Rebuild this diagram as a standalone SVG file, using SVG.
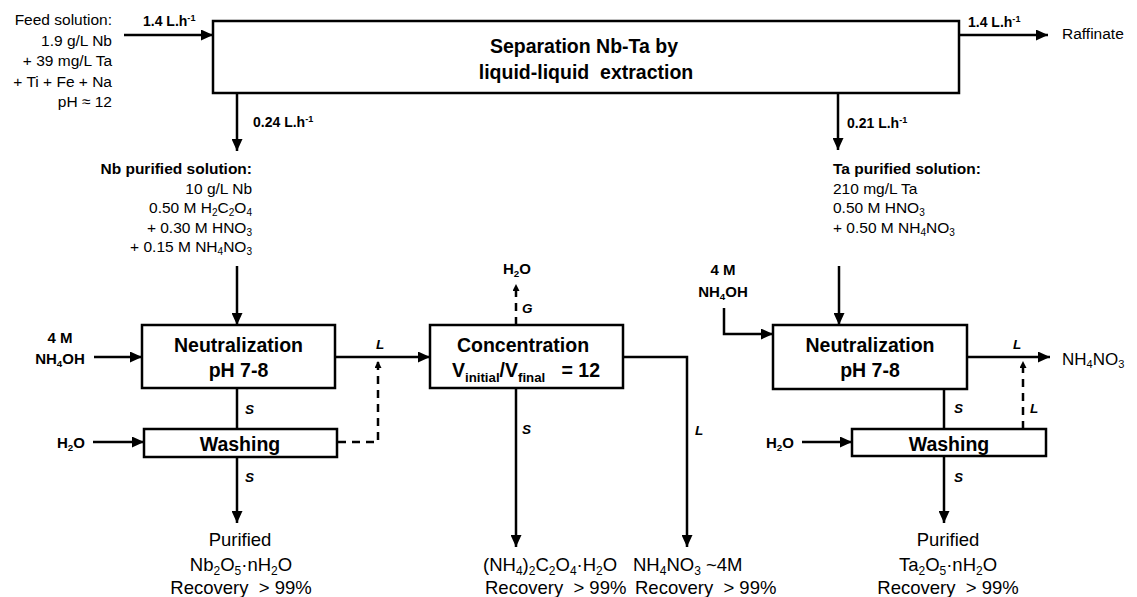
<svg xmlns="http://www.w3.org/2000/svg" width="1137" height="597" viewBox="0 0 1137 597">
<style>
text{font-family:"Liberation Sans",Arial,sans-serif;fill:#000}
.box{fill:#fff;stroke:#000;stroke-width:2.5}
.bt{font-size:19.5px;font-weight:bold;text-anchor:middle}
.lb{font-size:15.5px}
.bl{font-weight:bold}
.fl{font-size:14px;font-weight:bold}
.ph{font-size:13.5px;font-weight:bold;font-style:italic}
.ch{font-size:15px;font-weight:bold;text-anchor:middle}
.out{font-size:18.5px}
.mid{text-anchor:middle}
.end{text-anchor:end}
.sb{font-size:65%;baseline-shift:-3px}
.sbl{font-size:65%;baseline-shift:-3.5px}
.sbv{font-size:68%;baseline-shift:-5px}
.sp{font-size:65%;baseline-shift:super}
.c{fill:none;stroke:#000;stroke-width:2.5}
.d{fill:none;stroke:#000;stroke-width:2.5;stroke-dasharray:8 6}
</style>
<defs>
<marker id="ah" markerUnits="userSpaceOnUse" markerWidth="12" markerHeight="11" refX="12" refY="5.5" orient="auto">
<path d="M0,0 L12,5.5 L0,11 z" fill="#000"/>
</marker>
<marker id="as" markerUnits="userSpaceOnUse" markerWidth="7" markerHeight="7" refX="7" refY="3.5" orient="auto">
<path d="M0,0 L7,3.5 L0,7 z" fill="#000"/>
</marker>
</defs>

<g id="connectors">
<path class="c" d="M124,35 H213" marker-end="url(#ah)"/>
<path class="c" d="M959,35 H1048" marker-end="url(#ah)"/>
<path class="c" d="M237,93 V151" marker-end="url(#ah)"/>
<path class="c" d="M838,93 V150" marker-end="url(#ah)"/>
<path class="c" d="M237,266 V325" marker-end="url(#ah)"/>
<path class="c" d="M839,266 V325" marker-end="url(#ah)"/>
<path class="c" d="M94,357 H142" marker-end="url(#ah)"/>
<path class="c" d="M93,442 H144" marker-end="url(#ah)"/>
<path class="c" d="M237,388 V429"/>
<path class="c" d="M237,457 V523" marker-end="url(#ah)"/>
<path class="d" d="M338,442 H378 V361" marker-end="url(#as)"/>
<path class="c" d="M335,357 H430" marker-end="url(#ah)"/>
<path class="d" d="M516,325 V284" marker-end="url(#as)"/>
<path class="c" d="M516,388 V547" marker-end="url(#ah)"/>
<path class="c" d="M623,357 H687 V547" marker-end="url(#ah)"/>
<path class="c" d="M724,308 V334 H773" marker-end="url(#ah)"/>
<path class="c" d="M967,357 H1050" marker-end="url(#ah)"/>
<path class="c" d="M944,389 V429"/>
<path class="d" d="M1023,429 V361" marker-end="url(#as)"/>
<path class="c" d="M802,442 H852" marker-end="url(#ah)"/>
<path class="c" d="M944,456 V523" marker-end="url(#ah)"/>
<text class="fl" x="143" y="26">1.4 L.h<tspan class="sp">-1</tspan></text>
<text class="fl" x="968" y="26.5">1.4 L.h<tspan class="sp">-1</tspan></text>
<text class="fl" x="253" y="127">0.24 L.h<tspan class="sp">-1</tspan></text>
<text class="fl" x="847" y="128">0.21 L.h<tspan class="sp">-1</tspan></text>
<text class="ph" x="245" y="414">S</text>
<text class="ph" x="245" y="482">S</text>
<text class="ph" x="376" y="349">L</text>
<text class="ph" x="522" y="313">G</text>
<text class="ph" x="522" y="434">S</text>
<text class="ph" x="695" y="435">L</text>
<text class="ph" x="1013" y="349">L</text>
<text class="ph" x="1030" y="413">L</text>
<text class="ph" x="954" y="413">S</text>
<text class="ph" x="954" y="482">S</text>
</g>

<g id="feed">
<text class="lb end" x="112" y="25">Feed solution:</text>
<text class="lb end" x="112" y="45.5">1.9 g/L Nb</text>
<text class="lb end" x="112" y="66">+ 39 mg/L Ta</text>
<text class="lb end" x="112" y="86.5">+ Ti + Fe + Na</text>
<text class="lb end" x="112" y="107">pH ≈ 12</text>
</g>

<g id="separation">
<rect class="box" x="213" y="21" width="746" height="72"/>
<text class="bt" x="584" y="53">Separation Nb-Ta by</text>
<text class="bt" x="586" y="79">liquid-liquid&#160; extraction</text>
</g>

<g id="raffinate">
<text class="lb" x="1062" y="39">Raffinate</text>
</g>

<g id="nb-solution">
<text class="lb end bl" x="252" y="174">Nb purified solution:</text>
<text class="lb end" x="252" y="193.5">10 g/L Nb</text>
<text class="lb end" x="252" y="213">0.50 M H<tspan class="sb">2</tspan>C<tspan class="sb">2</tspan>O<tspan class="sb">4</tspan></text>
<text class="lb end" x="252" y="232.5">+ 0.30 M HNO<tspan class="sb">3</tspan></text>
<text class="lb end" x="252" y="252">+ 0.15 M NH<tspan class="sb">4</tspan>NO<tspan class="sb">3</tspan></text>
</g>

<g id="ta-solution">
<text class="lb bl" x="833" y="174">Ta purified solution:</text>
<text class="lb" x="833" y="193.5">210 mg/L Ta</text>
<text class="lb" x="833" y="213">0.50 M HNO<tspan class="sb">3</tspan></text>
<text class="lb" x="833" y="232.5">+ 0.50 M NH<tspan class="sb">4</tspan>NO<tspan class="sb">3</tspan></text>
</g>

<g id="nh4oh-left">
<text class="ch" x="60" y="343">4 M</text>
<text class="ch" x="60" y="364">NH<tspan class="sb">4</tspan>OH</text>
</g>

<g id="h2o-left">
<text class="ch" x="71" y="448">H<tspan class="sb">2</tspan>O</text>
</g>

<g id="neutralization-nb">
<rect class="box" x="142" y="325" width="193" height="63"/>
<text class="bt" x="238.5" y="352">Neutralization</text>
<text class="bt" x="238.5" y="377">pH 7-8</text>
</g>

<g id="washing-nb">
<rect class="box" x="144" y="429" width="193" height="28"/>
<text class="bt" x="240" y="451">Washing</text>
</g>

<g id="h2o-gas">
<text class="ch" x="517" y="274">H<tspan class="sb">2</tspan>O</text>
</g>

<g id="concentration">
<rect class="box" x="430" y="325" width="193" height="63"/>
<text class="bt" x="523" y="352">Concentration</text>
<text class="bt" x="526" y="377">V<tspan class="sbv">initial</tspan>/V<tspan class="sbv">final</tspan>&#160;&#160; = 12</text>
</g>

<g id="nh4oh-right">
<text class="ch" x="723" y="275">4 M</text>
<text class="ch" x="723" y="297">NH<tspan class="sb">4</tspan>OH</text>
</g>

<g id="neutralization-ta">
<rect class="box" x="773" y="325" width="194" height="64"/>
<text class="bt" x="870" y="352">Neutralization</text>
<text class="bt" x="870" y="377">pH 7-8</text>
</g>

<g id="nh4no3-out">
<text style="font-size:17px" x="1062" y="365">NH<tspan class="sb">4</tspan>NO<tspan class="sb">3</tspan></text>
</g>

<g id="h2o-right">
<text class="ch" x="780" y="448">H<tspan class="sb">2</tspan>O</text>
</g>

<g id="washing-ta">
<rect class="box" x="852" y="429" width="194" height="27"/>
<text class="bt" x="949" y="451">Washing</text>
</g>

<g id="product-nb">
<text class="out mid" x="240" y="546">Purified</text>
<text class="out mid" x="241" y="571">Nb<tspan class="sbl">2</tspan>O<tspan class="sbl">5</tspan>·nH<tspan class="sbl">2</tspan>O</text>
<text class="out mid" x="241" y="594">Recovery&#160; &gt; 99%</text>
</g>

<g id="product-oxalate">
<text class="out" x="483" y="571">(NH<tspan class="sbl">4</tspan>)<tspan class="sbl">2</tspan>C<tspan class="sbl">2</tspan>O<tspan class="sbl">4</tspan>·H<tspan class="sbl">2</tspan>O</text>
<text class="out" x="485" y="594">Recovery&#160; &gt; 99%</text>
</g>

<g id="product-nh4no3">
<text class="out" x="633" y="571">NH<tspan class="sbl">4</tspan>NO<tspan class="sbl">3</tspan> ~4M</text>
<text class="out" x="635" y="594">Recovery&#160; &gt; 99%</text>
</g>

<g id="product-ta">
<text class="out mid" x="948" y="546">Purified</text>
<text class="out mid" x="948" y="571">Ta<tspan class="sbl">2</tspan>O<tspan class="sbl">5</tspan>·nH<tspan class="sbl">2</tspan>O</text>
<text class="out mid" x="948" y="594">Recovery&#160; &gt; 99%</text>
</g>
</svg>
